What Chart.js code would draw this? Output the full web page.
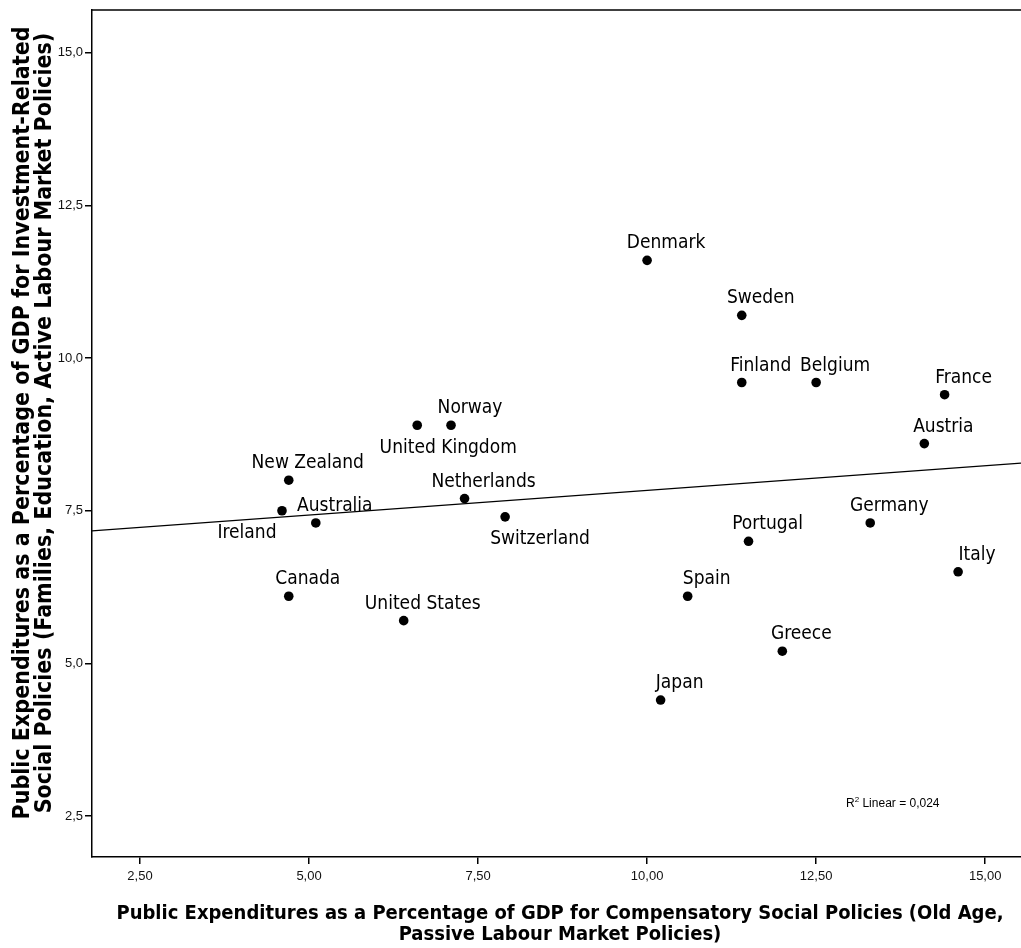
<!DOCTYPE html>
<html>
<head>
<meta charset="utf-8">
<script src="https://cdn.jsdelivr.net/npm/chart.js@4.4.1/dist/chart.umd.min.js"></script>
<style>
html,body{margin:0;padding:0;background:#fff;}
#wrap{width:1021px;height:948px;}
</style>
</head>
<body>
<div id="wrap"><canvas id="c" width="1021" height="948"></canvas></div>
<script>
// ---- data ----
const countries = ["Denmark","Sweden","Finland","Belgium","France","Austria","Germany","Italy","Portugal","Spain","Greece","Japan","Norway","United Kingdom","New Zealand","Ireland","Australia","Netherlands","Switzerland","Canada","United States"];
const compensatory = [10.0,11.4,11.4,12.5,14.4,14.1,13.3,14.6,11.5,10.6,12.0,10.2,7.1,6.6,4.7,4.6,5.1,7.3,7.9,4.7,6.4];
const investment   = [11.6,10.7,9.6,9.6,9.4,8.6,7.3,6.5,7.0,6.1,5.2,4.4,8.9,8.9,8.0,7.5,7.3,7.7,7.4,6.1,5.7];
const fitLineX = [1.79, 15.53];
const fitLineY = [7.17, 8.28];
const xTicks = [2.5,5,7.5,10,12.5,15];
const yTicks = [2.5,5,7.5,10,12.5,15];
const xTitle = ["Public Expenditures as a Percentage of GDP for Compensatory Social Policies (Old Age,","Passive Labour Market Policies)"];
const yTitle = ["Public Expenditures as a Percentage of GDP for Investment-Related","Social Policies (Families, Education, Active Labour Market Policies)"];
const r2Text = ["R","2"," Linear = 0,024"];

// ---- label placement (style) ----
const labelBelow = {"United Kingdom":{dx:31,dy:28},"Ireland":{dx:-35,dy:27},"Switzerland":{dx:35,dy:27}};
const labelDefault = {dx:19,dy:-12};

const LABEL_FONT = "19px 'DejaVu Sans Condensed', 'DejaVu Sans'";
const TITLE_FONT_X = "bold 20px 'DejaVu Sans Condensed', 'DejaVu Sans'";
const TITLE_FONT_Y = "bold 23px 'DejaVu Sans Condensed', 'DejaVu Sans'";
const TICK_FONT = {family:"'Liberation Sans', Arial", size:13};

const points = countries.map((c,i)=>({x:compensatory[i], y:investment[i], label:c}));
const fitPts = fitLineX.map((x,i)=>({x:x, y:fitLineY[i]}));

const decorPlugin = {
  id:'decor',
  afterDatasetsDraw(chart){
    const ctx = chart.ctx;
    const xs = chart.scales.x, ys = chart.scales.y;
    const ca = chart.chartArea;
    ctx.save();
    ctx.fillStyle = '#000';
    ctx.font = LABEL_FONT;
    ctx.textAlign = 'center';
    ctx.textBaseline = 'alphabetic';
    points.forEach(p=>{
      const off = labelBelow[p.label] || labelDefault;
      ctx.fillText(p.label, xs.getPixelForValue(p.x)+off.dx, ys.getPixelForValue(p.y)+off.dy);
    });
    // frame (top line; left & bottom come from axis borders)
    ctx.strokeStyle = '#000';
    ctx.lineWidth = 1.5;
    ctx.beginPath();
    ctx.moveTo(ca.left, ca.top);
    ctx.lineTo(ca.right, ca.top);
    ctx.stroke();
    // R2 text
    ctx.font = "12px 'Liberation Sans', Arial";
    ctx.textAlign = 'left';
    let tx = 846, ty = 807;
    ctx.fillText(r2Text[0], tx, ty);
    tx += ctx.measureText(r2Text[0]).width;
    ctx.font = "8px 'Liberation Sans', Arial";
    ctx.fillText(r2Text[1], tx, ty-5);
    tx += ctx.measureText(r2Text[1]).width;
    ctx.font = "12px 'Liberation Sans', Arial";
    ctx.fillText(r2Text[2], tx, ty);
    // axis titles
    ctx.textAlign = 'center';
    ctx.font = TITLE_FONT_X;
    ctx.fillText(xTitle[0], 560, 919);
    ctx.fillText(xTitle[1], 560, 940);
    ctx.save();
    ctx.translate(0, 423);
    ctx.rotate(-Math.PI/2);
    ctx.font = TITLE_FONT_Y;
    ctx.fillText(yTitle[0], 0, 29);
    ctx.fillText(yTitle[1], 0, 51);
    ctx.restore();
    ctx.restore();
  }
};

new Chart(document.getElementById('c'), {
  type:'scatter',
  data:{
    datasets:[
      {data:points, backgroundColor:'#000', borderColor:'#000', pointRadius:4.8, pointHoverRadius:4.8, borderWidth:0, clip:false},
      {type:'line', data:fitPts, borderColor:'#000', borderWidth:1.2, pointRadius:0, fill:false, tension:0}
    ]
  },
  options:{
    responsive:false,
    animation:false,
    events:[],
    layout:{autoPadding:false, padding:{top:10,right:0,left:0,bottom:0}},
    plugins:{legend:{display:false}, tooltip:{enabled:false}},
    scales:{
      x:{
        type:'linear', min:1.79, max:15.53,
        afterBuildTicks(s){ s.ticks = xTicks.map(v=>({value:v})); },
        afterFit(s){ s.height = 91; s.paddingRight = 0; s.paddingLeft = 0; },
        grid:{display:true, drawOnChartArea:false, drawTicks:true, tickLength:7, color:'#000', lineWidth:1.5},
        border:{display:true, color:'#000', width:1.5},
        ticks:{color:'#111', font:TICK_FONT, padding:5, maxRotation:0,
          callback:(v)=>v.toFixed(2).replace('.',',')}
      },
      y:{
        type:'linear', min:1.83, max:15.70,
        afterBuildTicks(s){ s.ticks = yTicks.map(v=>({value:v})); },
        afterFit(s){ s.width = 92; s.paddingTop = 0; s.paddingBottom = 0; },
        grid:{display:true, drawOnChartArea:false, drawTicks:true, tickLength:7, color:'#000', lineWidth:1.5},
        border:{display:true, color:'#000', width:1.5},
        ticks:{color:'#111', font:TICK_FONT, padding:2,
          callback:(v)=>v.toFixed(1).replace('.',',')}
      }
    }
  },
  plugins:[decorPlugin]
});
</script>
</body>
</html>
